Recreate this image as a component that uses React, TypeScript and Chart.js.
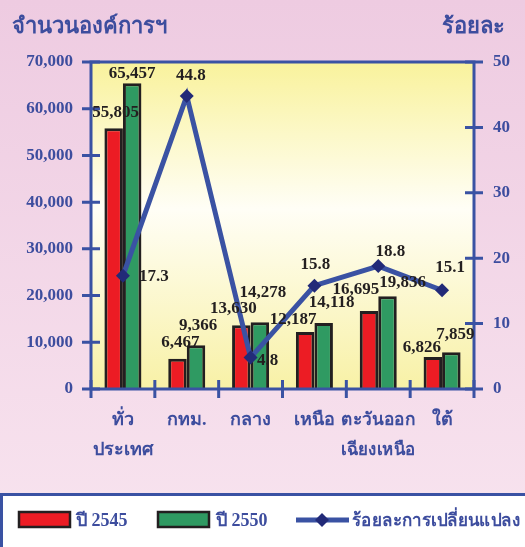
import React, { useEffect, useRef } from "react";
import { Chart, registerables } from "chart.js";

Chart.register(...registerables);

const categories: string[][] = [["ทั่ว", "ประเทศ"], ["กทม."], ["กลาง"], ["เหนือ"], ["ตะวันออก", "เฉียงเหนือ"], ["ใต้"]];
const year2545: number[] = [55805, 6467, 13630, 12187, 16695, 6826];
const year2550: number[] = [65457, 9366, 14278, 14118, 19836, 7859];
const pctChange: number[] = [17.3, 44.8, 4.8, 15.8, 18.8, 15.1];
const leftTicks: number[] = [0, 10000, 20000, 30000, 40000, 50000, 60000, 70000];
const rightTicks: number[] = [0, 10, 20, 30, 40, 50];
const seriesNames = ["ปี 2545", "ปี 2550", "ร้อยละการเปลี่ยนแปลง"];
const leftTitle = "จำนวนองค์การฯ";
const rightTitle = "ร้อยละ";

// label nudges (styling only)
const redNudge = [[2, -16], [3, -16], [-8, -17], [-12, -12], [-13, -21], [-11, -10]];
const greenNudge = [[0, -10], [2, -20], [3, -30], [8, -20], [15, -14], [4, -18]];
const lineNudge = [[31, 1], [4, -20], [17, 3], [1, -21], [12, -14], [8, -23]];

const BLUE = "#3a52a3";
const TXT = "#3d4d9e";
const RED = "#ec1c24";
const GREEN = "#2f9a62";
const DARK = "#231f20";
const NAVY = "#222a78";
const SERIF = '"Liberation Serif", "DejaVu Serif", serif';

const fmt = (v: number) => v.toLocaleString("en-US");

const decorPlugin = {
  id: "decor",
  beforeDraw(chart: any) {
    const { ctx, width, height, chartArea: a } = chart;
    ctx.save();
    const g = ctx.createLinearGradient(0, 0, 0, height);
    g.addColorStop(0, "#eecbe1");
    g.addColorStop(1, "#f8e4ef");
    ctx.fillStyle = g;
    ctx.fillRect(0, 0, width, height);
    const pg = ctx.createLinearGradient(0, a.top, 0, a.bottom);
    pg.addColorStop(0, "#f9f29c");
    pg.addColorStop(0.45, "#fffef6");
    pg.addColorStop(1, "#f8f1a6");
    ctx.fillStyle = pg;
    ctx.fillRect(a.left, a.top, a.right - a.left, a.bottom - a.top);
    ctx.restore();
  },
  afterDatasetsDraw(chart: any) {
    const { ctx, chartArea: a, scales } = chart;
    const x = scales.x, yl = scales.y, yr = scales.y1;
    ctx.save();
    // axes
    ctx.strokeStyle = BLUE;
    ctx.lineWidth = 3;
    ctx.beginPath();
    ctx.moveTo(a.left, a.bottom + 1);
    ctx.lineTo(a.left, a.top);
    ctx.lineTo(a.right, a.top);
    ctx.lineTo(a.right, a.bottom + 1);
    ctx.moveTo(a.left, a.bottom);
    ctx.lineTo(a.right, a.bottom);
    ctx.stroke();
    ctx.font = `bold 17px ${SERIF}`;
    ctx.fillStyle = TXT;
    ctx.textBaseline = "middle";
    ctx.beginPath();
    leftTicks.forEach((t) => {
      const py = yl.getPixelForValue(t);
      ctx.moveTo(a.left - 9, py);
      ctx.lineTo(a.left + 9, py);
    });
    rightTicks.forEach((t) => {
      const py = yr.getPixelForValue(t);
      ctx.moveTo(a.right - 9, py);
      ctx.lineTo(a.right + 9, py);
    });
    const step = x.getPixelForValue(1) - x.getPixelForValue(0);
    for (let i = 0; i <= categories.length; i++) {
      const px = i < categories.length ? x.getPixelForValue(i) - step / 2 : a.right;
      ctx.moveTo(px, a.bottom - 9);
      ctx.lineTo(px, a.bottom + 9);
    }
    ctx.stroke();
    ctx.textAlign = "right";
    leftTicks.forEach((t) => ctx.fillText(fmt(t), a.left - 18, yl.getPixelForValue(t)));
    ctx.textAlign = "left";
    rightTicks.forEach((t) => ctx.fillText(String(t), a.right + 19, yr.getPixelForValue(t)));
    // x labels
    ctx.font = `bold 18px ${SERIF}`;
    ctx.textAlign = "center";
    categories.forEach((c, i) => {
      const px = x.getPixelForValue(i);
      c.forEach((line, j) => ctx.fillText(line, px, a.bottom + 31 + j * 30, 74));
    });
    // titles
    ctx.font = `bold 22px ${SERIF}`;
    ctx.textBaseline = "alphabetic";
    ctx.textAlign = "left";
    ctx.fillText(leftTitle, 12, 33);
    ctx.textAlign = "right";
    ctx.fillText(rightTitle, 505, 33);
    // value labels
    ctx.fillStyle = DARK;
    ctx.font = `bold 17px ${SERIF}`;
    ctx.textAlign = "center";
    ctx.textBaseline = "middle";
    const m0 = chart.getDatasetMeta(0), m1 = chart.getDatasetMeta(1), m2 = chart.getDatasetMeta(2);
    m0.data.forEach((el: any, i: number) => ctx.fillText(fmt(year2545[i]), el.x + redNudge[i][0], el.y + redNudge[i][1]));
    m1.data.forEach((el: any, i: number) => ctx.fillText(fmt(year2550[i]), el.x + greenNudge[i][0], el.y + greenNudge[i][1]));
    m2.data.forEach((el: any, i: number) => ctx.fillText(pctChange[i].toFixed(1), el.x + lineNudge[i][0], el.y + lineNudge[i][1]));
    ctx.restore();
  },
  afterDraw(chart: any) {
    const { ctx } = chart;
    ctx.save();
    ctx.fillStyle = "#ffffff";
    ctx.strokeStyle = BLUE;
    ctx.lineWidth = 3;
    ctx.fillRect(1, 494, 540, 60);
    ctx.strokeRect(1.5, 494.5, 540, 60);
    const cy = 520;
    ctx.lineWidth = 2.5;
    ctx.strokeStyle = DARK;
    ctx.fillStyle = RED;
    ctx.fillRect(19, 512, 51, 15);
    ctx.strokeRect(19, 512, 51, 15);
    ctx.fillStyle = GREEN;
    ctx.fillRect(158, 512, 51, 15);
    ctx.strokeRect(158, 512, 51, 15);
    ctx.strokeStyle = BLUE;
    ctx.lineWidth = 5;
    ctx.beginPath();
    ctx.moveTo(296, cy);
    ctx.lineTo(349, cy);
    ctx.stroke();
    ctx.fillStyle = NAVY;
    ctx.beginPath();
    ctx.moveTo(322, cy - 7);
    ctx.lineTo(329, cy);
    ctx.lineTo(322, cy + 7);
    ctx.lineTo(315, cy);
    ctx.closePath();
    ctx.fill();
    ctx.fillStyle = TXT;
    ctx.font = `bold 18px ${SERIF}`;
    ctx.textAlign = "left";
    ctx.textBaseline = "middle";
    ctx.fillText(seriesNames[0], 76, cy + 1);
    ctx.fillText(seriesNames[1], 216, cy + 1);
    ctx.fillText(seriesNames[2], 352, cy + 1, 168);
    ctx.restore();
  },
};

export default function App() {
  const ref = useRef<HTMLCanvasElement | null>(null);
  useEffect(() => {
    if (!ref.current) return;
    const chart = new Chart(ref.current, {
      type: "bar",
      data: {
        labels: categories.map((c) => c.join(" ")),
        datasets: [
          { type: "bar", label: seriesNames[0], data: year2545, backgroundColor: RED, borderColor: DARK, borderWidth: 3, yAxisID: "y", order: 2, categoryPercentage: 0.58, barPercentage: 1 } as any,
          { type: "bar", label: seriesNames[1], data: year2550, backgroundColor: GREEN, borderColor: DARK, borderWidth: 3, yAxisID: "y", order: 2, categoryPercentage: 0.58, barPercentage: 1 } as any,
          { type: "line", label: seriesNames[2], data: pctChange, borderColor: BLUE, borderWidth: 5, backgroundColor: NAVY, pointStyle: "rectRot", pointRadius: 7, pointBorderWidth: 0, pointBackgroundColor: NAVY, yAxisID: "y1", order: 0, tension: 0 } as any,
        ],
      },
      options: {
        responsive: false,
        animation: false,
        layout: { padding: { left: 91, right: 51, top: 62, bottom: 158 } },
        plugins: { legend: { display: false }, tooltip: { enabled: false }, title: { display: false } },
        scales: {
          x: { display: false, offset: true },
          y: { display: false, min: 0, max: 70000 },
          y1: { display: false, min: 0, max: 50, position: "right" },
        },
      },
      plugins: [decorPlugin],
    });
    return () => chart.destroy();
  }, []);
  return (
    <div style={{ position: "fixed", left: 0, top: 0, width: 525, height: 547 }}>
      <canvas ref={ref} width={525} height={547} style={{ display: "block" }} />
    </div>
  );
}
